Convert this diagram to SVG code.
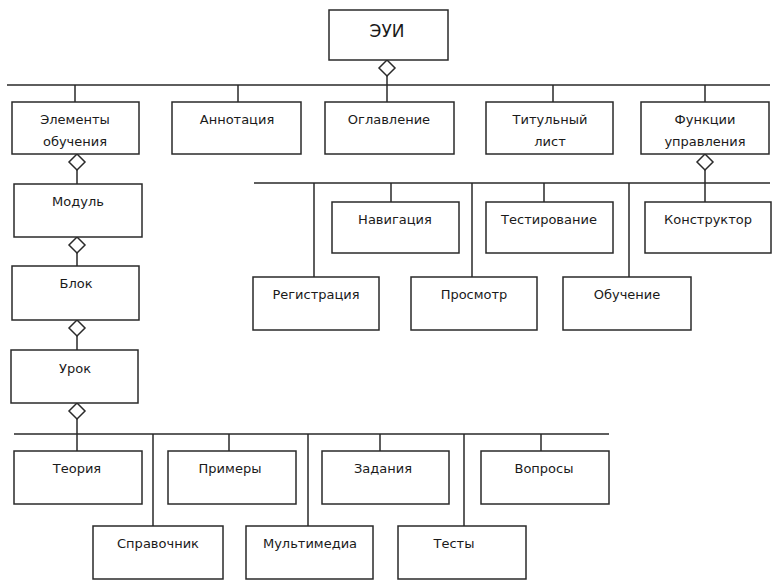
<svg xmlns="http://www.w3.org/2000/svg" width="774" height="584" viewBox="0 0 774 584">
<style>
.b{fill:#fff;stroke:#2a2a2a;stroke-width:1.5}
.l{fill:none;stroke:#2a2a2a;stroke-width:1.5}
.d{fill:#fff;stroke:#2a2a2a;stroke-width:1.5}
text{font-family:"DejaVu Sans","Liberation Sans",sans-serif;font-size:13px;fill:#1a1a1a;text-anchor:middle}
.big{font-size:17px}
</style>
<rect width="774" height="584" fill="#fff"/>
<g id="connectors">
<path class="l" d="M7 85H770M387 76V102M75 85V102M238 85V102M553 85V102M705 85V102"/>
<path class="l" d="M77 170V184M77 253V266M77 336V350M77 419V451"/>
<path class="l" d="M254 183H770M314 183V277M391 183V202M472 183V277M544 183V202M629 183V277M705 170V202"/>
<path class="l" d="M14 434H609M153 434V526M229 434V451M308 434V526M380 434V451M464 434V526M541 434V451"/>
<path class="d" d="M387 60L395 68L387 76L379 68Z"/>
<path class="d" d="M77 154L85 162L77 170L69 162Z"/>
<path class="d" d="M77 237L85 245L77 253L69 245Z"/>
<path class="d" d="M77 320L85 328L77 336L69 328Z"/>
<path class="d" d="M77 403L85 411L77 419L69 411Z"/>
<path class="d" d="M705 154L713 162L705 170L697 162Z"/>
</g>
<g id="eui"><rect class="b" x="329" y="10" width="119" height="50"/><text class="big" x="387" y="37">ЭУИ</text></g>
<g id="elementy"><rect class="b" x="12" y="102" width="127" height="52"/><text x="75" y="124">Элементы</text><text x="75" y="146">обучения</text></g>
<g id="annotaciya"><rect class="b" x="172" y="102" width="129" height="52"/><text x="237" y="124">Аннотация</text></g>
<g id="oglavlenie"><rect class="b" x="325" y="102" width="129" height="52"/><text x="389" y="124">Оглавление</text></g>
<g id="titulny"><rect class="b" x="486" y="102" width="127" height="52"/><text x="550" y="124">Титульный</text><text x="550" y="146">лист</text></g>
<g id="funkcii"><rect class="b" x="641" y="102" width="128" height="52"/><text x="705" y="124">Функции</text><text x="705" y="146">управления</text></g>
<g id="modul"><rect class="b" x="14" y="184" width="128" height="53"/><text x="78" y="206">Модуль</text></g>
<g id="blok"><rect class="b" x="12" y="266" width="127" height="54"/><text x="76" y="288">Блок</text></g>
<g id="urok"><rect class="b" x="11" y="350" width="127" height="53"/><text x="75" y="373">Урок</text></g>
<g id="navigaciya"><rect class="b" x="332" y="202" width="127" height="51"/><text x="395" y="224">Навигация</text></g>
<g id="testirovanie"><rect class="b" x="486" y="202" width="127" height="51"/><text x="549" y="224">Тестирование</text></g>
<g id="konstruktor"><rect class="b" x="645" y="202" width="126" height="51"/><text x="708" y="224">Конструктор</text></g>
<g id="registraciya"><rect class="b" x="253" y="277" width="126" height="53"/><text x="316" y="299">Регистрация</text></g>
<g id="prosmotr"><rect class="b" x="411" y="277" width="126" height="53"/><text x="474" y="299">Просмотр</text></g>
<g id="obuchenie"><rect class="b" x="563" y="277" width="128" height="53"/><text x="627" y="299">Обучение</text></g>
<g id="teoriya"><rect class="b" x="14" y="451" width="128" height="53"/><text x="77" y="473">Теория</text></g>
<g id="primery"><rect class="b" x="168" y="451" width="128" height="53"/><text x="230" y="473">Примеры</text></g>
<g id="zadaniya"><rect class="b" x="322" y="451" width="127" height="53"/><text x="383" y="473">Задания</text></g>
<g id="voprosy"><rect class="b" x="481" y="451" width="128" height="53"/><text x="544" y="473">Вопросы</text></g>
<g id="spravochnik"><rect class="b" x="93" y="526" width="130" height="53"/><text x="158" y="548">Справочник</text></g>
<g id="multimedia"><rect class="b" x="246" y="526" width="127" height="53"/><text x="310" y="548">Мультимедиа</text></g>
<g id="testy"><rect class="b" x="398" y="526" width="128" height="53"/><text x="454" y="548">Тесты</text></g>
</svg>
